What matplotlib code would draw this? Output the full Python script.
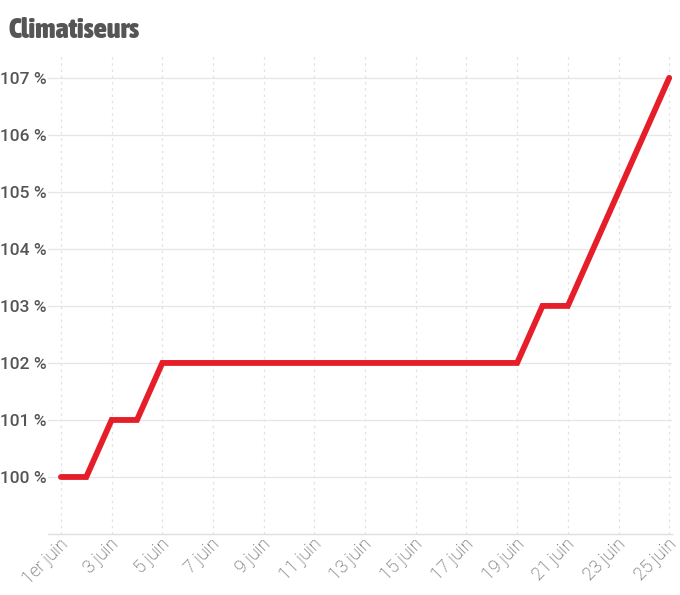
import matplotlib
matplotlib.use("Agg")
import matplotlib.pyplot as plt
import matplotlib.transforms as mtransforms
from matplotlib import font_manager

# data
days = list(range(1, 26))
values = [100, 100, 101, 101, 102, 102, 102, 102, 102, 102, 102, 102, 102,
          102, 102, 102, 102, 102, 102, 103, 103, 104, 105, 106, 107]
tick_days = list(range(1, 26, 2))
tick_labels = ["1er juin"] + ["%d juin" % d for d in tick_days[1:]]
y_ticks = list(range(100, 108))
y_labels = ["%d %%" % v for v in y_ticks]

# look for a condensed bold face for the title
cond = [f for f in font_manager.fontManager.ttflist
        if ("Condensed" in f.fname or "Narrow" in f.fname) and f.weight in (700, 800, 900, "bold")]
cond.sort(key=lambda f: -int(f.weight) if isinstance(f.weight, int) else 0)
title_font = None
if cond:
    title_font = font_manager.FontProperties(fname=cond[0].fname, size=20.5)

fig = plt.figure(figsize=(6.8, 5.95), dpi=100)
ax = fig.add_axes([0.0706, 0.1025, 0.918, 0.805])

ax.plot(days, values, color="#e61e2a", lw=4.2, solid_capstyle="round",
        solid_joinstyle="miter", clip_on=False, zorder=3)

ax.set_xlim(0.49, 25.12)
ax.set_ylim(99.0, 107.4)

ax.set_yticks(y_ticks)
ax.set_yticklabels(y_labels, fontsize=12.5, color="#555555", family="Roboto",
                   fontweight="medium")
ax.set_xticks(tick_days)
ax.set_xticklabels([])

# rotated day labels: their end sits right of the tick, like the original
shift = mtransforms.ScaledTranslation(8 / 100, -11 / 100, fig.dpi_scale_trans)
for d, lab in zip(tick_days, tick_labels):
    ax.text(d, 0, lab, transform=ax.get_xaxis_transform() + shift,
            rotation=45, ha="right", va="baseline", rotation_mode="anchor",
            fontsize=13, color="#454545", family="Roboto", fontweight="light",
            clip_on=False)

ax.tick_params(axis="both", length=0)
ax.tick_params(axis="y", pad=1)

ax.grid(axis="y", color="#e6e6e6", lw=0.9)
ax.grid(axis="x", color="#e2e2e2", lw=0.9, ls=(0, (2, 3)))
ax.set_axisbelow(True)

for s in ["top", "right", "left"]:
    ax.spines[s].set_visible(False)
ax.spines["bottom"].set_color("#e0e0e0")
ax.spines["bottom"].set_linewidth(1)

if title_font is not None:
    fig.text(0.012, 0.948, "Climatiseurs", fontproperties=title_font,
             color="#555555", va="center", ha="left")
else:
    fig.text(0.012, 0.948, "Climatiseurs", fontsize=16, fontweight="bold",
             color="#555555", va="center", ha="left", fontstretch="condensed")

fig.savefig("out.png", dpi=100, facecolor="white")
